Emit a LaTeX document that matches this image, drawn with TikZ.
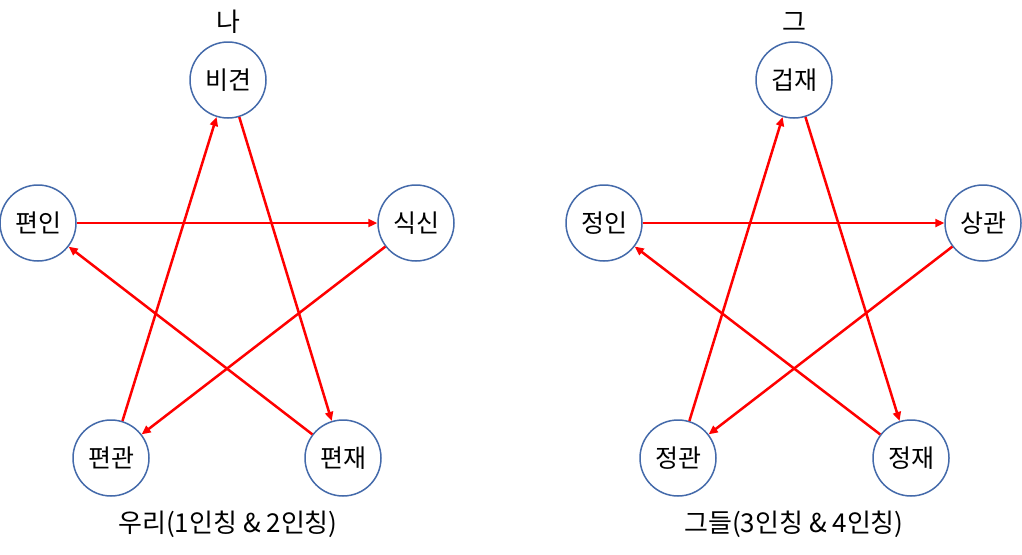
\documentclass[tikz,border=0pt]{standalone}
\usepackage{fontspec}
\setmainfont{Noto Sans CJK KR}
\usetikzlibrary{arrows.meta}
\definecolor{ringblue}{RGB}{68,106,170}
\definecolor{arrowred}{RGB}{255,0,0}

\begin{document}
\begin{tikzpicture}[x=1pt, y=-1pt, line join = round,
    god/.style={circle, draw=ringblue, line width=1.5pt, minimum size=76pt,
        inner sep=0pt, font=\fontsize{25}{28}\selectfont},
    flow/.style={draw=arrowred, line width=2.5pt,
        -{Triangle[length=9pt,width=8pt]}},
    caption/.style={font=\fontsize{26}{29}\selectfont}]
    \useasboundingbox (0,0) rectangle (1022,554);

    % left star
    \node[god] (bigyeon) at (228,80) {비견};
    \node[god] (pyeonin) at (38,223) {편인};
    \node[god] (siksin) at (416,223) {식신};
    \node[god] (pyeongwan) at (111,458) {편관};
    \node[god] (pyeonjae) at (343,458) {편재};
    \node[caption] (na) at (228,22) {나};
    \node[caption] (uri) at (228,524) {우리(1인칭 \& 2인칭)};

    \draw[flow] (pyeongwan)--(bigyeon);
    \draw[flow] (bigyeon)--(pyeonjae);
    \draw[flow] (pyeonjae)--(pyeonin);
    \draw[flow] (pyeonin)--(siksin);
    \draw[flow] (siksin)--(pyeongwan);

    % right star
    \node[god] (geopjae) at (794,80) {겁재};
    \node[god] (jeongin) at (604,223) {정인};
    \node[god] (sanggwan) at (983,223) {상관};
    \node[god] (jeonggwan) at (678,458) {정관};
    \node[god] (jeongjae) at (911,458) {정재};
    \node[caption] (geu) at (794,22) {그};
    \node[caption] (geudeul) at (794,524) {그들(3인칭 \& 4인칭)};

    \draw[flow] (jeonggwan)--(geopjae);
    \draw[flow] (geopjae)--(jeongjae);
    \draw[flow] (jeongjae)--(jeongin);
    \draw[flow] (jeongin)--(sanggwan);
    \draw[flow] (sanggwan)--(jeonggwan);
\end{tikzpicture}
\end{document}
